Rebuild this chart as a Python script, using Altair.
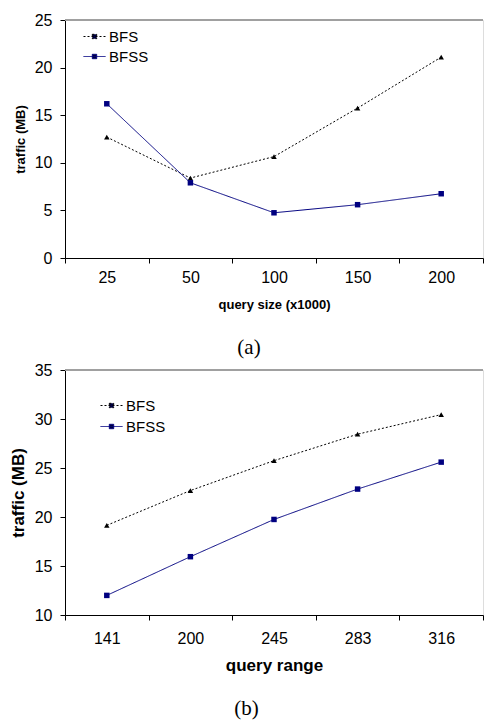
import altair as alt
import pandas as pd

series = ["BFS", "BFSS"]

size_cats = ["25", "50", "100", "150", "200"]
bfs_size = [12.7, 8.4, 10.65, 15.75, 21.1]
bfss_size = [16.2, 7.9, 4.75, 5.6, 6.75]

range_cats = ["141", "200", "245", "283", "316"]
bfs_range = [19.15, 22.7, 25.75, 28.45, 30.45]
bfss_range = [12.0, 15.95, 19.75, 22.85, 25.6]

FONT = "Liberation Sans"
SERIF = "Liberation Serif"
COLORS = ["#000000", "#000080"]
MARKERS = ["m_" + s for s in series]


def make_df(cats, a, b):
    rows = []
    for c, v in zip(cats, a):
        rows.append({"x": c, "y": v, "series": series[0], "marker": MARKERS[0]})
    for c, v in zip(cats, b):
        rows.append({"x": c, "y": v, "series": series[1], "marker": MARKERS[1]})
    return pd.DataFrame(rows)


def panel(cats, a, b, xtitle, ydom, ystep, title, title_size, height,
          legx, legy, legpad, lpad, xtpad, toff):
    df = make_df(cats, a, b)
    xenc = alt.X("x:N", sort=cats, title=xtitle,
                 scale=alt.Scale(paddingInner=0, paddingOuter=0),
                 axis=alt.Axis(labelAngle=0, tickBand="extent", tickSize=5,
                               labelFont=FONT, labelFontSize=16, labelColor="#000",
                               labelPadding=lpad, titleFont=FONT, titleFontSize=title_size,
                               titleFontWeight="bold", titleColor="#000", titlePadding=xtpad,
                               domainColor="#000", tickColor="#000", grid=False))
    yenc = alt.Y("y:Q", title="traffic (MB)",
                 scale=alt.Scale(domain=ydom, nice=False, zero=False),
                 axis=alt.Axis(values=list(range(ydom[0], ydom[1] + 1, ystep)), tickSize=5,
                               labelFont=FONT, labelFontSize=16, labelColor="#000",
                               labelPadding=8, titleFont=FONT, titleFontSize=title_size,
                               titleFontWeight="bold", titleColor="#000", titlePadding=7,
                               domainColor="#000", tickColor="#000", grid=False))
    leg = alt.Legend(title=None, orient="none", legendX=legx, legendY=legy,
                     labelFont=FONT, labelFontSize=15, labelColor="#000",
                     symbolType="M-2,0H2M-0.4,-0.4H0.4V0.4H-0.4Z",
                     symbolSize=121, symbolStrokeWidth=1, symbolFillColor="#000040",
                     rowPadding=legpad, labelOffset=7)
    base = alt.Chart(df)
    lines = base.mark_line(strokeWidth=1).encode(
        x=xenc, y=yenc,
        color=alt.Color("series:N", scale=alt.Scale(domain=series, range=COLORS), legend=leg),
        strokeDash=alt.StrokeDash("series:N",
                                  scale=alt.Scale(domain=series, range=[[2, 2], [1, 0]]),
                                  legend=leg),
    )
    pts = base.mark_point(filled=True, size=30, opacity=1).encode(
        x=xenc, y=yenc,
        fill=alt.Fill("marker:N", scale=alt.Scale(domain=MARKERS, range=COLORS), legend=None),
        shape=alt.Shape("marker:N", scale=alt.Scale(domain=MARKERS, range=["triangle-up", "square"]),
                        legend=None),
    )
    top = alt.Chart(df).mark_rule(color="#a0a0a0", strokeWidth=1.5).encode(y=alt.value(0))
    return alt.layer(top, lines, pts).properties(
        width=418, height=height,
        title=alt.TitleParams(title, orient="bottom", anchor="middle", frame="bounds",
                              font=SERIF, fontSize=21, fontWeight="normal", color="#000",
                              offset=toff),
    )


ca = panel(size_cats, bfs_size, bfss_size, "query size (x1000)", [0, 25], 5, "(a)", 13, 238,
           22, 9, 4, 6, 13, 26)
cb = panel(range_cats, bfs_range, bfss_range, "query range", [10, 35], 5, "(b)", 17, 245,
           39, 28, 5, 10, 11, 25)

chart = alt.concat(ca, cb, columns=1, spacing=2, align="none").resolve_scale(
    color="independent", strokeDash="independent", fill="independent", shape="independent"
).properties(
    padding={"top": 3, "left": 0, "right": 0, "bottom": 0}
).configure_view(stroke=None).configure(background="white")

chart.save("out.html", embed_options={"renderer": "svg", "actions": False})
